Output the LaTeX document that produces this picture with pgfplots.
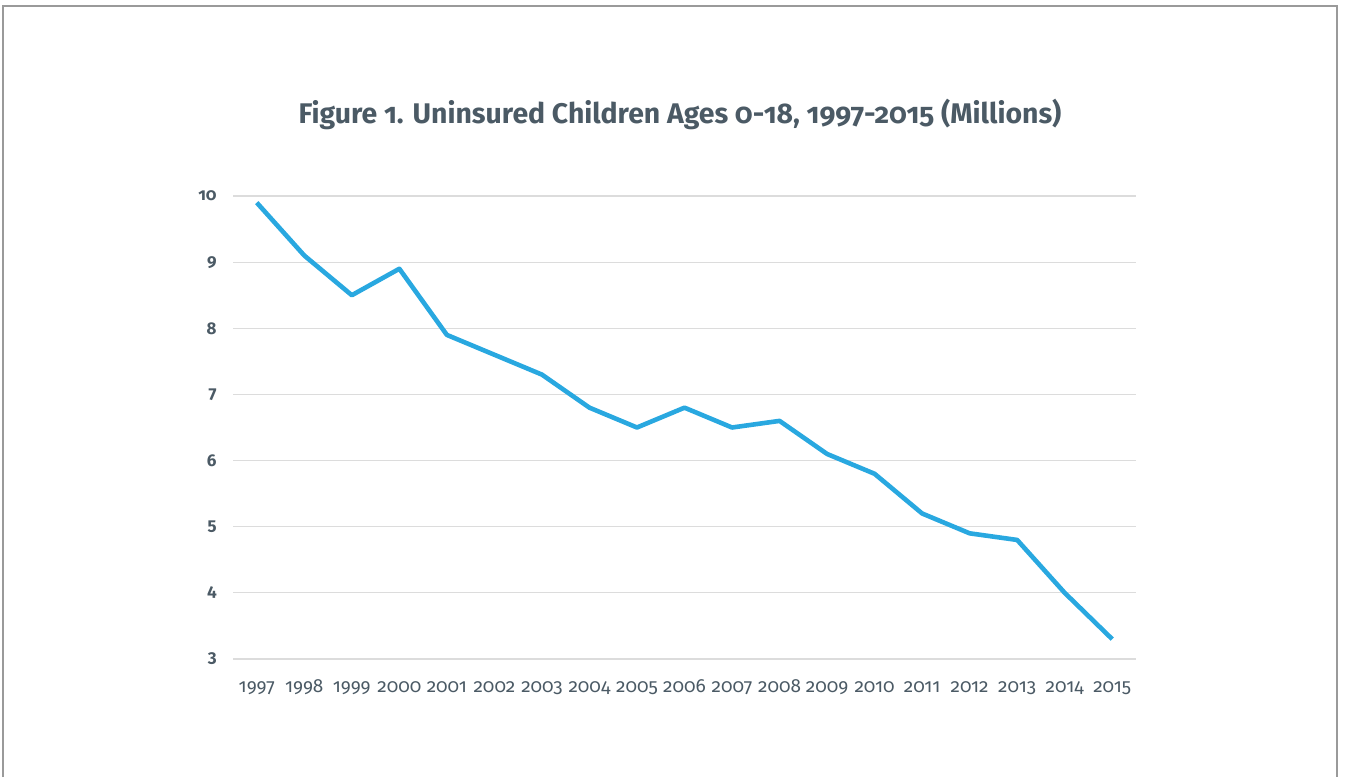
\documentclass[border=0pt]{standalone}
\usepackage{fontspec}
\setmainfont{Fira Sans}[Script=Latin, Numbers={OldStyle,Proportional}]
\usepackage{pgfplots}
\pgfplotsset{compat=1.18}
\definecolor{linecol}{HTML}{29A8E0}
\definecolor{txt}{HTML}{4B5A65}
\definecolor{gridcol}{HTML}{DCDCDC}
\definecolor{framecol}{HTML}{9A9A9A}
\begin{document}
\begin{tikzpicture}
% canvas: 1346 x 777 px at 0.5pt per px
\path (0,0) rectangle (673pt,388.5pt);
\draw[framecol, line width=0.8pt] (1.5pt,0) -- (1.5pt,385.5pt) -- (668.5pt,385.5pt) -- (668.5pt,0);
\node[text=txt, font=\fontsize{14.2}{17}\selectfont\bfseries] at (340pt,331.5pt)
  {Figure 1. Uninsured Children Ages 0-18, 1997-2015 (Millions)};
\begin{axis}[
    at={(116.5pt,59pt)}, anchor=south west,
    scale only axis, width=451.5pt, height=231.5pt,
    xmin=1996.5, xmax=2015.5,
    ymin=3, ymax=10,
    xtick={1997,1998,...,2015},
    ytick={3,4,...,10},
    axis line style={draw=none},
    major tick length=0pt,
    ymajorgrids=true,
    grid style={gridcol, line width=0.6pt},
    /pgf/number format/assume math mode=true,
    /pgf/number format/1000 sep={},
    xticklabel style={text=txt, font=\fontsize{9.5}{11}\selectfont, anchor=base, inner sep=0pt, yshift=-16.5pt},
    yticklabel style={text=txt, font=\fontsize{8.5}{10}\selectfont\bfseries, anchor=east, inner sep=0pt, xshift=-8pt},
    clip=false,
]
\addplot[linecol, line width=2.3pt, line join=round] coordinates {
    (1997,9.9) (1998,9.1) (1999,8.5) (2000,8.9) (2001,7.9)
    (2002,7.6) (2003,7.3) (2004,6.8) (2005,6.5) (2006,6.8)
    (2007,6.5) (2008,6.6) (2009,6.1) (2010,5.8) (2011,5.2)
    (2012,4.9) (2013,4.8) (2014,4.0) (2015,3.3)
};
\end{axis}
\end{tikzpicture}
\end{document}
